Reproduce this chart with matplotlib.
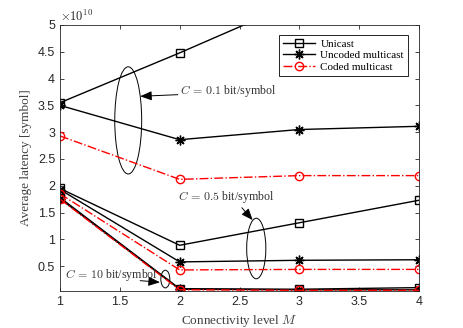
import matplotlib
matplotlib.use("Agg")
import matplotlib.pyplot as plt
from matplotlib.patches import Ellipse
from matplotlib.ticker import FormatStrFormatter

plt.rcParams['mathtext.fontset'] = 'cm'
plt.rcParams['font.family'] = ['Liberation Sans', 'DejaVu Sans']

M = [1, 2, 3, 4]
# latencies in units of 1e10 symbols
# C = 0.1 bit/symbol
uni_01 = [3.55, 4.48, 5.45, 6.4]
unc_01 = [3.50, 2.86, 3.05, 3.11]
cod_01 = [2.93, 2.12, 2.19, 2.19]
# C = 0.5 bit/symbol
uni_05 = [1.95, 0.89, 1.31, 1.73]
unc_05 = [1.93, 0.58, 0.61, 0.62]
cod_05 = [1.85, 0.43, 0.44, 0.44]
# C = 10 bit/symbol
uni_10 = [1.78, 0.08, 0.07, 0.10]
unc_10 = [1.76, 0.07, 0.06, 0.06]
cod_10 = [1.75, 0.06, 0.05, 0.05]

serif = 'Liberation Serif'
grey = '#262626'

fig = plt.figure(figsize=(4.63, 3.28), dpi=100)
ax = fig.add_axes([0.1296, 0.1128, 0.7754, 0.811])

uni_kw = dict(color='black', marker='s', mfc='none', ms=5.5, lw=1)
unc_kw = dict(color='black', marker=(8, 2, 0), ms=7, lw=1)
cod_kw = dict(color='red', ls='-.', marker='o', mfc='none', ms=6, lw=1)

for i, (u, n, c) in enumerate([(uni_01, unc_01, cod_01),
                               (uni_05, unc_05, cod_05),
                               (uni_10, unc_10, cod_10)]):
    ax.plot(M, u, label='Unicast' if i == 0 else None, **uni_kw)
    ax.plot(M, n, label='Uncoded multicast' if i == 0 else None, **unc_kw)
    ax.plot(M, c, label='Coded multicast' if i == 0 else None, **cod_kw)

# ellipses around each group
for (xc, yc, w, h) in [(1.57, 3.22, 0.225, 2.0), (2.64, 0.83, 0.16, 1.13), (1.88, 0.26, 0.075, 0.33)]:
    ax.add_patch(Ellipse((xc, yc), w, h, fill=False, lw=0.7, ec='black'))

arrow = dict(arrowstyle='-|>,head_length=0.7,head_width=0.28', color='black', lw=0.7,
             shrinkA=0, shrinkB=0)
txt = dict(family=serif, fontsize=8.6, va='center', color='#333333')
ax.text(2.0, 3.76, r'$C\,=\,0.1$ bit/symbol', **txt)
ax.annotate('', xy=(1.67, 3.67), xytext=(1.985, 3.70), arrowprops=arrow)
ax.text(1.99, 1.80, r'$C\,=\,0.5$ bit/symbol', **txt)
ax.annotate('', xy=(2.61, 1.36), xytext=(2.52, 1.59), arrowprops=arrow)
ax.text(1.04, 0.34, r'$C\,=\,10$ bit/symbol', **txt)
ax.annotate('', xy=(1.835, 0.20), xytext=(1.67, 0.23), arrowprops=arrow)

ax.set_xlim(1, 4)
ax.set_ylim(0.037, 5)
ax.set_xticks([1, 1.5, 2, 2.5, 3, 3.5, 4])
ax.set_yticks([0.5, 1, 1.5, 2, 2.5, 3, 3.5, 4, 4.5, 5])
ax.xaxis.set_major_formatter(FormatStrFormatter('%g'))
ax.yaxis.set_major_formatter(FormatStrFormatter('%g'))
ax.text(0.0, 1.005, r'$\times 10^{10}$', transform=ax.transAxes, fontsize=9,
        va='bottom', ha='left', color=grey)
ax.tick_params(direction='in', top=True, right=True, labelsize=9, length=3, width=0.6, colors=grey)
for s in ax.spines.values():
    s.set_linewidth(0.6)
    s.set_color(grey)

ax.set_xlabel(r'Connectivity level $M$', family=serif, fontsize=9.5, color='#404040')
ax.set_ylabel('Average latency [symbol]', family=serif, fontsize=9.5, color='#404040')

leg = ax.legend(loc='upper right', bbox_to_anchor=(0.969, 0.962), borderaxespad=0,
                prop={'family': serif, 'size': 8}, fancybox=False, framealpha=1,
                edgecolor='black', handlelength=2.9, handletextpad=0.5,
                borderpad=0.35, labelspacing=0.15)
leg.get_frame().set_linewidth(0.6)

fig.savefig('out.png', dpi=100)
